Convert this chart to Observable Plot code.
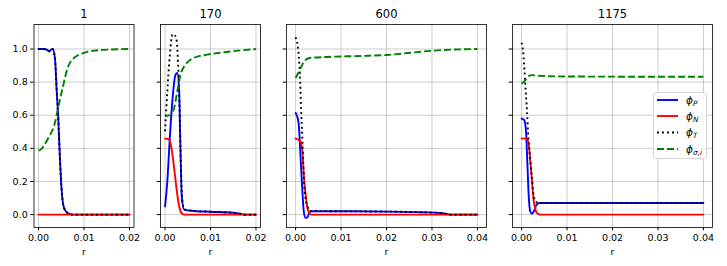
<!DOCTYPE html>
<html>
<head>
<meta charset="utf-8">
<script src="https://cdn.jsdelivr.net/npm/d3@7"></script>
<script src="https://cdn.jsdelivr.net/npm/@observablehq/plot@0.6"></script>
<style>
  html, body { margin: 0; padding: 0; background: white; }
  #chart { position: relative; width: 727px; height: 266px; font-family: "DejaVu Sans", sans-serif; }
  #chart svg.panel { position: absolute; top: 0; }
  #chart svg text { font-family: "DejaVu Sans", sans-serif !important; }
  #legend { position: absolute; left: 653px; top: 92px; width: 54px; height: 67px; box-sizing: border-box;
            border: 1px solid #d6d6d6; border-radius: 3px; background: rgba(255,255,255,0.85); }
</style>
</head>
<body>
<div id="chart"></div>
<script>
// ---- tick labels / titles ----
const titles = ["1", "170", "600", "1175"];
const yTicks = [0, 0.2, 0.4, 0.6, 0.8, 1.0];
const xTicksShort = [0, 0.01, 0.02];
const xTicksLong = [0, 0.01, 0.02, 0.03, 0.04];
const seriesNames = ["P", "N", "T", "σ,i"];

// ---- panel 1 (t = 1) ----
const p1_P = [[0,1.0],[0.0012,1.0],[0.0019,0.995],[0.00235,0.986],[0.0028,0.997],[0.0031,1.0],[0.0036,0.946],[0.004,0.745],[0.0043,0.604],[0.0047,0.342],[0.0051,0.141],[0.0055,0.05],[0.006,0.02],[0.0067,0.006],[0.0075,0.0],[0.02,0.0]];
const p1_N = [[0,0],[0.02,0]];
const p1_T = [[0,1.0],[0.0012,1.0],[0.0019,0.995],[0.00235,0.986],[0.0028,0.997],[0.0031,1.0],[0.0036,0.946],[0.004,0.745],[0.0043,0.604],[0.0047,0.342],[0.0051,0.141],[0.0055,0.05],[0.006,0.02],[0.0067,0.006],[0.0075,0.0],[0.02,0.0]];
const p1_S = [[0,0.386],[0.0006,0.395],[0.00125,0.42],[0.00235,0.473],[0.0035,0.543],[0.0043,0.644],[0.0053,0.765],[0.0064,0.886],[0.0078,0.946],[0.01,0.976],[0.0122,0.99],[0.016,0.997],[0.02,1.0]];

// ---- panel 2 (t = 170) ----
const p2_P = [[0,0.05],[0.0005,0.2],[0.001,0.44],[0.0016,0.684],[0.0023,0.845],[0.0027,0.855],[0.0031,0.745],[0.0034,0.382],[0.0037,0.1],[0.0042,0.03],[0.0063,0.022],[0.01,0.017],[0.015,0.011],[0.0165,0.005],[0.0175,0.0],[0.02,0.0]];
const p2_N = [[0,0.459],[0.0008,0.455],[0.0014,0.403],[0.002,0.282],[0.0026,0.141],[0.0031,0.05],[0.0036,0.01],[0.0042,0.0],[0.02,0.0]];
const p2_T = [[0,0.503],[0.0005,0.745],[0.001,0.946],[0.0016,1.085],[0.0019,1.09],[0.0025,1.06],[0.0028,0.95],[0.0031,0.75],[0.0034,0.4],[0.0037,0.12],[0.0042,0.032],[0.0063,0.022],[0.01,0.017],[0.015,0.011],[0.0165,0.005],[0.0175,0.0],[0.02,0.0]];
const p2_S = [[0,0.594],[0.0011,0.6],[0.002,0.644],[0.0027,0.745],[0.0034,0.845],[0.0045,0.906],[0.0063,0.946],[0.0093,0.966],[0.0122,0.978],[0.016,0.99],[0.02,1.0]];

// ---- panel 3 (t = 600) ----
const p3_P = [[0,0.614],[0.0002,0.605],[0.0007,0.543],[0.0011,0.342],[0.0015,0.141],[0.0018,0.02],[0.0022,-0.02],[0.0026,-0.016],[0.003,0.01],[0.0035,0.02],[0.01,0.02],[0.02,0.018],[0.028,0.014],[0.032,0.01],[0.0335,0.002],[0.034,0.0],[0.04,0.0]];
const p3_N = [[0,0.459],[0.00095,0.447],[0.0015,0.382],[0.0018,0.24],[0.0022,0.12],[0.0026,0.04],[0.003,0.01],[0.0035,0.0],[0.04,0.0]];
const p3_T = [[0,1.071],[0.0006,0.986],[0.00095,0.845],[0.0012,0.644],[0.0015,0.443],[0.0017,0.302],[0.002,0.141],[0.0026,0.05],[0.0032,0.022],[0.01,0.02],[0.02,0.018],[0.028,0.014],[0.032,0.01],[0.0335,0.002],[0.034,0.0],[0.04,0.0]];
const p3_S = [[0,0.825],[0.0006,0.855],[0.0013,0.896],[0.002,0.93],[0.0031,0.946],[0.0069,0.952],[0.0143,0.958],[0.0201,0.964],[0.0252,0.977],[0.0289,0.987],[0.0325,0.994],[0.0362,0.998],[0.04,1.0]];

// ---- panel 4 (t = 1175) ----
const p4_P = [[0,0.58],[0.0006,0.57],[0.001,0.49],[0.0013,0.29],[0.0015,0.15],[0.0019,0.02],[0.0023,0.005],[0.0027,0.02],[0.0033,0.06],[0.004,0.07],[0.04,0.07]];
const p4_N = [[0,0.46],[0.0012,0.455],[0.0016,0.42],[0.0019,0.33],[0.0023,0.2],[0.0026,0.1],[0.003,0.035],[0.0034,0.008],[0.0042,0.0],[0.04,0.0]];
const p4_T = [[0,1.038],[0.00044,0.954],[0.0008,0.79],[0.0012,0.62],[0.0015,0.46],[0.0019,0.33],[0.0023,0.21],[0.0026,0.125],[0.003,0.085],[0.0034,0.073],[0.0038,0.07],[0.04,0.07]];
const p4_S = [[0,0.79],[0.0008,0.81],[0.0015,0.835],[0.0023,0.842],[0.004,0.838],[0.01,0.834],[0.04,0.832]];

// ---- assemble ----
const colors = ["#0000ff", "#ff0000", "#000000", "#008000"];
const LW = 1.9;
const styles = [
  {stroke: colors[0], strokeWidth: LW},
  {stroke: colors[1], strokeWidth: LW},
  {stroke: colors[2], strokeWidth: LW, strokeDasharray: "1.9,3.1", strokeLinecap: "butt"},
  {stroke: colors[3], strokeWidth: LW, strokeDasharray: "7,3", strokeLinecap: "butt"}
];
const panels = [
  {title: titles[0], series: [p1_P, p1_N, p1_T, p1_S], xDomain: [-0.001, 0.021], xTicks: xTicksShort, left: 33.5, w: 100},
  {title: titles[1], series: [p2_P, p2_N, p2_T, p2_S], xDomain: [-0.001, 0.021], xTicks: xTicksShort, left: 160, w: 100},
  {title: titles[2], series: [p3_P, p3_N, p3_T, p3_S], xDomain: [-0.002, 0.042], xTicks: xTicksLong, left: 286, w: 200},
  {title: titles[3], series: [p4_P, p4_N, p4_T, p4_S], xDomain: [-0.002, 0.042], xTicks: xTicksLong, left: 512, w: 200}
];

const chart = document.getElementById("chart");
const FS = 9.5;
panels.forEach((p, i) => {
  const ml = i === 0 ? 33.5 : 12;
  const mr = 12;
  const svg = Plot.plot({
    width: p.w + ml + mr,
    height: 266,
    marginTop: 24,
    marginBottom: 39,
    marginLeft: ml,
    marginRight: mr,
    style: {background: "transparent", overflow: "visible", fontFamily: "DejaVu Sans", fontSize: FS + "px", color: "black"},
    x: {domain: p.xDomain},
    y: {domain: [-0.078, 1.148]},
    marks: [
      Plot.gridX(p.xTicks, {stroke: "#b0b0b0", strokeOpacity: 0.8, strokeWidth: 0.8}),
      Plot.gridY(yTicks, {stroke: "#b0b0b0", strokeOpacity: 0.8, strokeWidth: 0.8}),
      ...p.series.map((s, k) => Plot.line(s, {x: d => d[0], y: d => d[1], curve: "monotone-x", ...styles[k]})),
      Plot.frame({stroke: "black", strokeWidth: 0.8}),
      Plot.axisX({ticks: p.xTicks, tickFormat: d3.format(".2f"), tickSize: 3.3, tickPadding: 3, label: null, fontSize: FS}),
      Plot.axisY({ticks: yTicks, tickFormat: i === 0 ? d3.format(".1f") : () => "", tickSize: 3.3, tickPadding: 3, label: null, fontSize: FS}),
      Plot.text([p.title], {text: d => d, frameAnchor: "top", dy: -10, lineAnchor: "middle", fontSize: 11.5}),
      Plot.text(["r"], {text: d => d, frameAnchor: "bottom", dy: 24.5, lineAnchor: "middle", fontSize: FS})
    ]
  });
  svg.classList.add("panel");
  svg.style.left = (p.left - ml) + "px";
  chart.appendChild(svg);
});

// ---- legend ----
const legend = document.createElement("div");
legend.id = "legend";
const rowsY = [8, 24, 40.5, 57];
let inner = `<svg width="54" height="67" style="position:absolute;left:-1px;top:-1px" font-family="DejaVu Sans" font-size="10.5">`;
seriesNames.forEach((name, k) => {
  const st = styles[k];
  inner += `<line x1="4" x2="25" y1="${rowsY[k]}" y2="${rowsY[k]}" stroke="${st.stroke}" stroke-width="${st.strokeWidth}"` +
           (st.strokeDasharray ? ` stroke-dasharray="${st.strokeDasharray}"` : "") + `/>`;
  const sub = name.includes(",")
    ? `<tspan font-style="italic">σ</tspan><tspan>,</tspan><tspan font-style="italic">i</tspan>`
    : `<tspan font-style="italic">${name}</tspan>`;
  inner += `<text x="33" y="${rowsY[k] + 3.5}"><tspan font-style="italic">ϕ</tspan><tspan font-size="7.3" dy="2">${sub}</tspan></text>`;
});
inner += `</svg>`;
legend.innerHTML = inner;
chart.appendChild(legend);
</script>
</body>
</html>
